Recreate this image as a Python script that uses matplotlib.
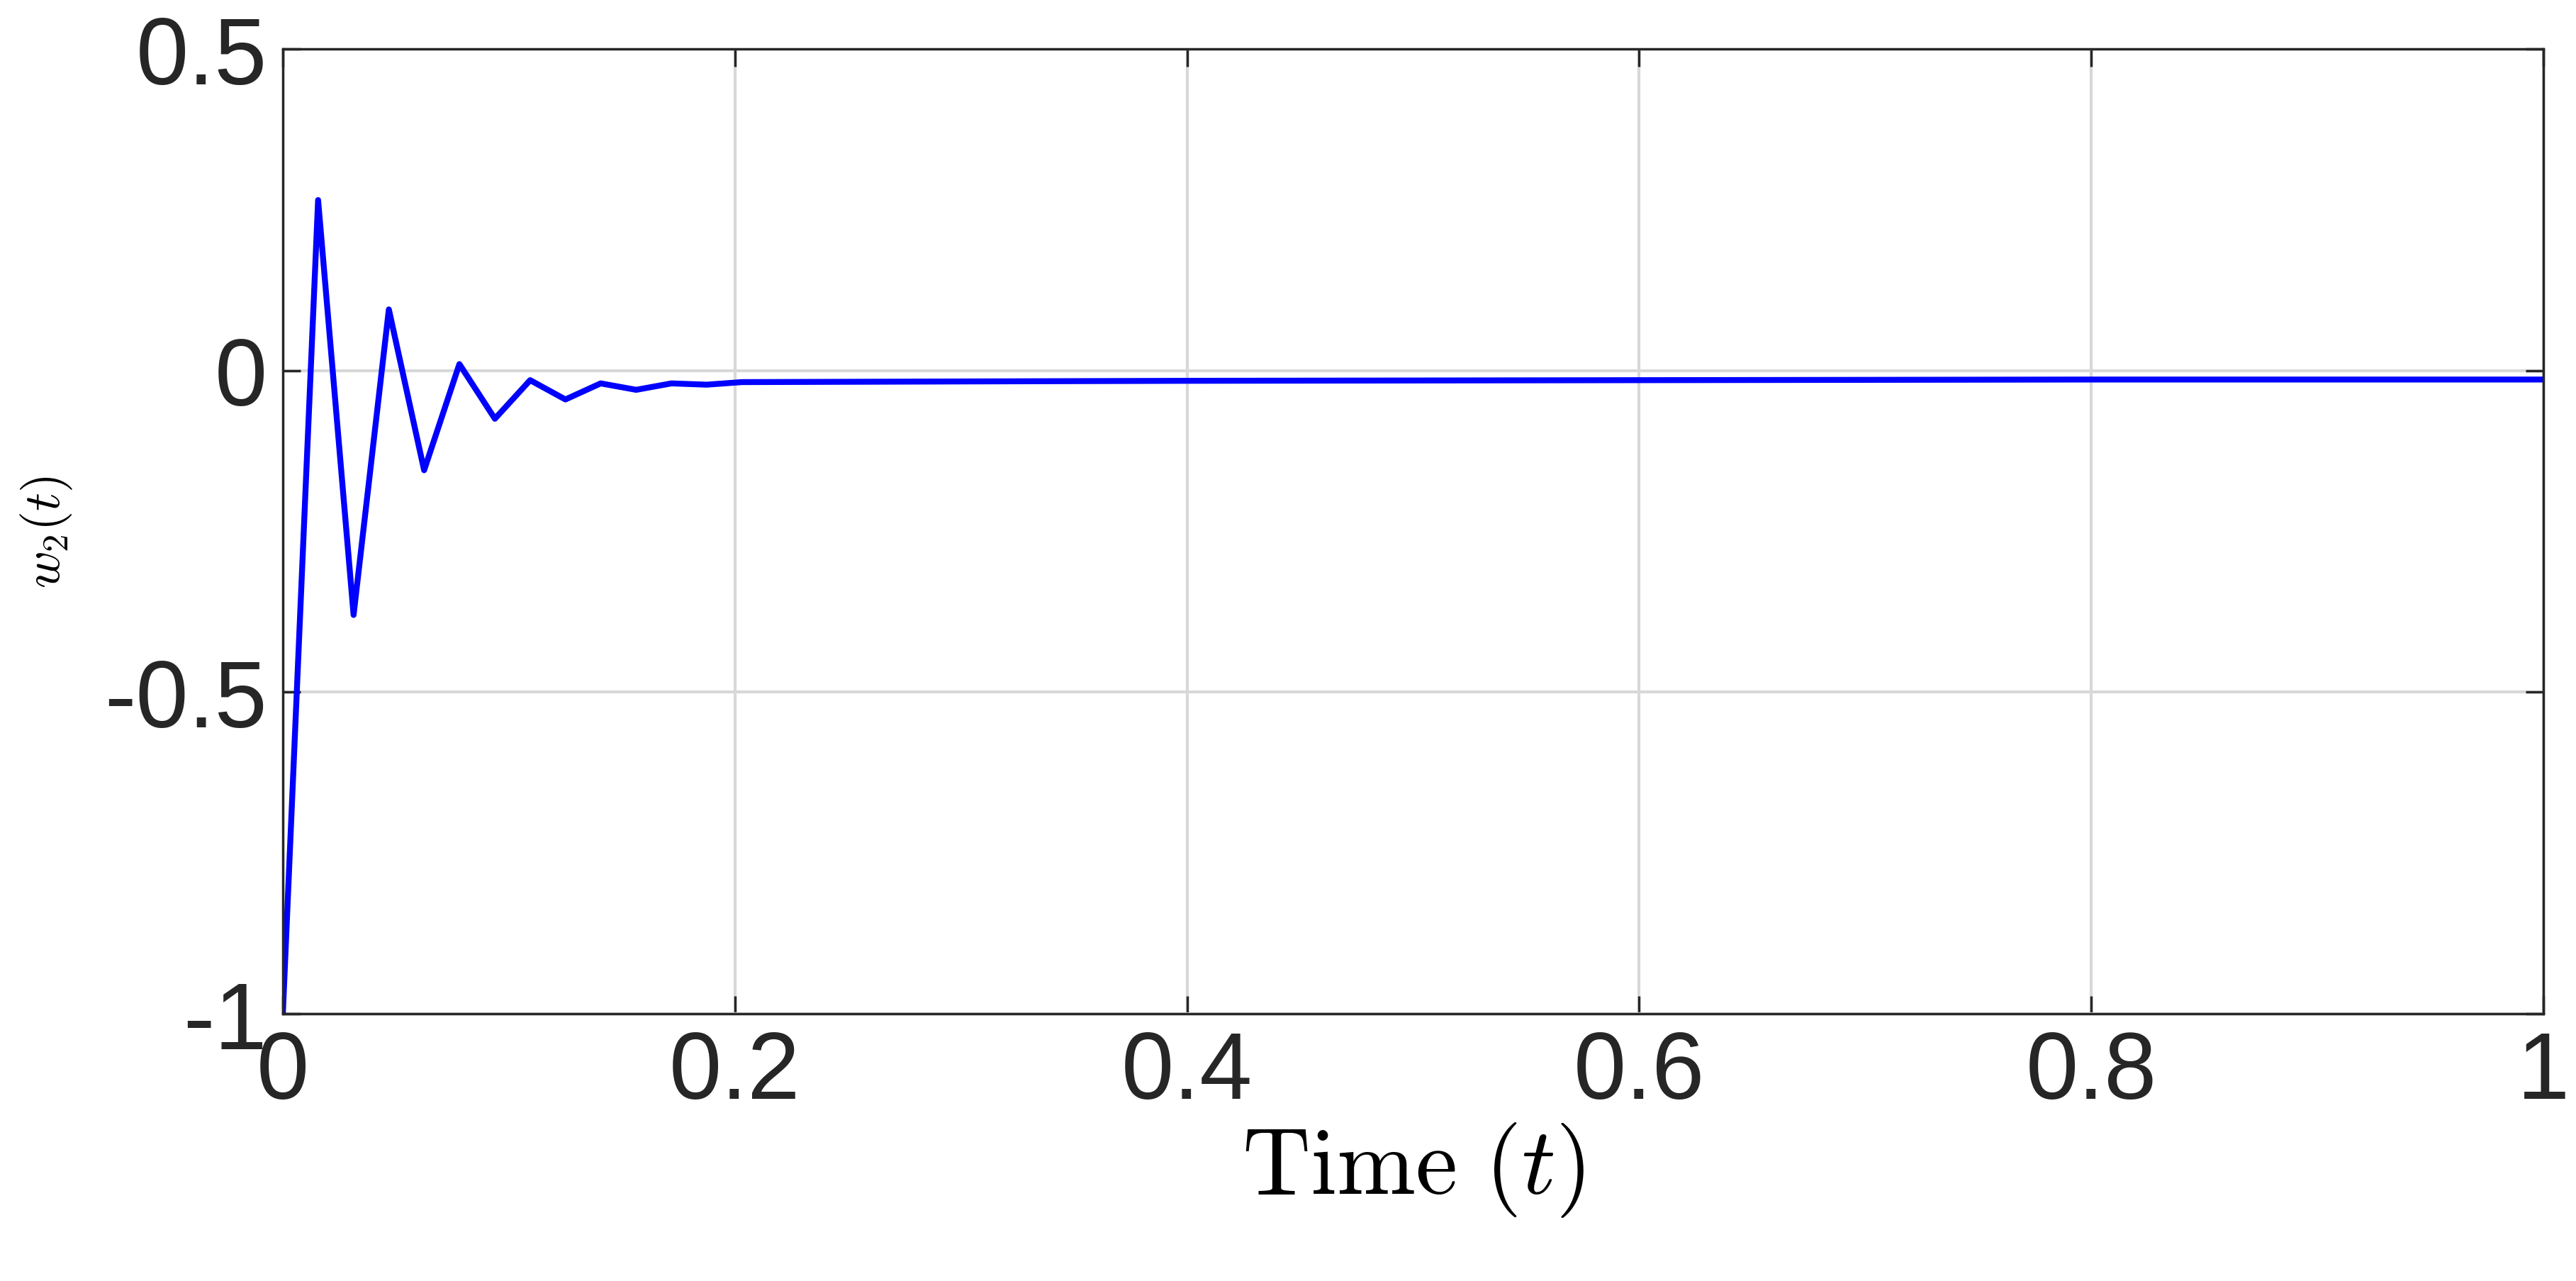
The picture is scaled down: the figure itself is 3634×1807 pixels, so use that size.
import matplotlib
matplotlib.use("Agg")
import matplotlib.pyplot as plt

t = [0, 0.0156, 0.0313, 0.0469, 0.0625, 0.0781, 0.0938, 0.1094, 0.125, 0.1406,
     0.1563, 0.1719, 0.1875, 0.2031, 0.3, 0.4, 0.6, 0.8, 1.0]
w2 = [-1.0, 0.265, -0.38, 0.095, -0.155, 0.01, -0.075, -0.015, -0.045, -0.02,
      -0.03, -0.02, -0.022, -0.018, -0.017, -0.016, -0.015, -0.014, -0.014]
xticks = [0, 0.2, 0.4, 0.6, 0.8, 1]
xticklabels = ["0", "0.2", "0.4", "0.6", "0.8", "1"]
yticks = [-1, -0.5, 0, 0.5]
yticklabels = ["-1", "-0.5", "0", "0.5"]

plt.rcParams['mathtext.fontset'] = 'cm'
fig = plt.figure(figsize=(36.34, 18.08), dpi=100)
ax = fig.add_axes([399/3634, 1-1431/1808, (3588-399)/3634, (1431-70)/1808])
ax.plot(t, w2, color='#0000ff', lw=6)
ax.set_xlim(0, 1)
ax.set_ylim(-1, 0.5)
ax.set_xticks(xticks)
ax.set_xticklabels(xticklabels, family='Liberation Sans', fontsize=96)
ax.set_yticks(yticks)
ax.set_yticklabels(yticklabels, family='Liberation Sans', fontsize=96)
ax.grid(True, color='#d8d8d8', lw=3)
ax.tick_params(direction='in', length=18, width=2.5, top=True, right=True, pad=16, colors='#262626')
for s in ax.spines.values():
    s.set_color('#262626'); s.set_linewidth(2.5)
ax.set_xlabel(r'$\mathrm{Time}\ (t)$', fontsize=96, labelpad=2)
ax.set_ylabel(r'$w_2(t)$', fontsize=52, labelpad=30)
fig.savefig('out.png', dpi=100)
